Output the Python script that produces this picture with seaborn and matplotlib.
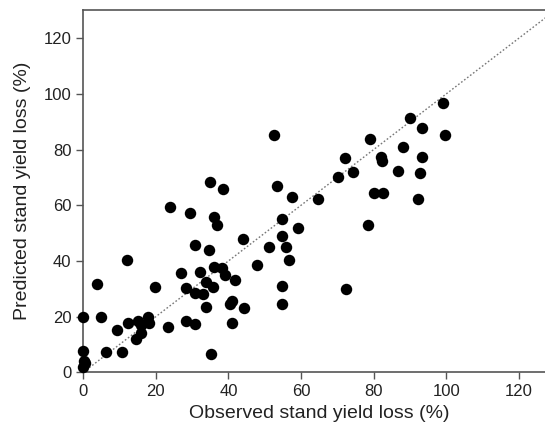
import matplotlib
matplotlib.use("Agg")
import matplotlib.pyplot as plt
import seaborn as sns
import pandas as pd

osservato = [0, 0.3, 0.5, 0, 0, 3.7, 4.9, 6.2, 9.2, 10.7, 12.1, 12.2, 14.4, 15.0, 15.9, 16.0,
             17.8, 18.1, 19.7, 23.3, 23.9, 27.0, 28.4, 28.2, 29.4, 30.8, 30.8, 30.8, 32.1, 33.1,
             33.9, 33.8, 34.5, 34.9, 35.2, 35.6, 36.0, 36.0, 36.7, 38.1, 38.4, 39.1, 40.4, 41.1,
             41.0, 41.8, 43.9, 44.2, 47.9, 51.2, 52.6, 53.3, 54.7, 54.8, 54.8, 54.8, 55.8, 56.6,
             57.4, 59.2, 64.7, 70.2, 72.2, 72.4, 74.2, 78.5, 79.0, 80.2, 82.0, 82.2, 82.6, 86.7,
             88.2, 90.0, 92.1, 92.8, 93.2, 93.4, 99.0, 99.6]
predetto = [2.0, 4.0, 3.5, 7.5, 19.7, 31.8, 19.8, 7.3, 15.2, 7.4, 40.3, 17.8, 11.8, 18.5, 14.2, 17.0,
            20.0, 17.6, 30.8, 16.4, 59.5, 35.8, 30.3, 18.4, 57.3, 28.6, 45.6, 17.2, 36.0, 28.1,
            32.5, 23.3, 43.9, 68.3, 6.6, 30.5, 55.7, 37.7, 52.8, 37.3, 65.7, 34.9, 24.6, 25.6,
            17.7, 33.1, 48.0, 23.0, 38.4, 44.9, 85.3, 66.9, 55.2, 48.8, 31.0, 24.5, 44.9, 40.3,
            62.9, 51.7, 62.1, 70.0, 76.9, 29.9, 71.9, 52.9, 83.9, 64.5, 77.4, 76.0, 64.3, 72.3,
            81.0, 91.3, 62.3, 71.7, 77.4, 87.6, 96.8, 85.3]
tick_valori = [0, 20, 40, 60, 80, 100, 120]

df = pd.DataFrame({"osservato": osservato, "predetto": predetto})

sns.set_style("ticks")
plt.rcParams["font.family"] = ["Liberation Sans", "DejaVu Sans"]

fig = plt.figure(figsize=(5.45, 4.32), dpi=100)
# l'asse destro esce dall'immagine come nel riferimento (ritagliato)
ax = fig.add_axes([0.1528, 0.1382, 0.866, 0.838])

# linea 1:1 tratteggiata
ax.axline((0, 0), slope=1, color="#777777", linestyle=(0, (1.2, 1.5)), linewidth=1.0, zorder=1)
sns.scatterplot(data=df, x="osservato", y="predetto", ax=ax, color="black", s=68,
                edgecolor="black", linewidth=0, zorder=3, clip_on=False)

ax.set_xlim(0, 130)
ax.set_ylim(0, 130)
ax.set_xticks(tick_valori)
ax.set_yticks(tick_valori)
ax.tick_params(axis="both", labelsize=12, length=5, width=1, color="#555555", labelcolor="#222222")
ax.tick_params(top=False, right=False)
for lato in ["left", "bottom", "top", "right"]:
    ax.spines[lato].set_color("#555555")
    ax.spines[lato].set_linewidth(1.2)
ax.set_xlabel("Observed stand yield loss (%)", fontsize=14, color="#222222", labelpad=4)
ax.set_ylabel("Predicted stand yield loss (%)", fontsize=14, color="#222222", labelpad=9)

fig.savefig("out.png", dpi=100)
